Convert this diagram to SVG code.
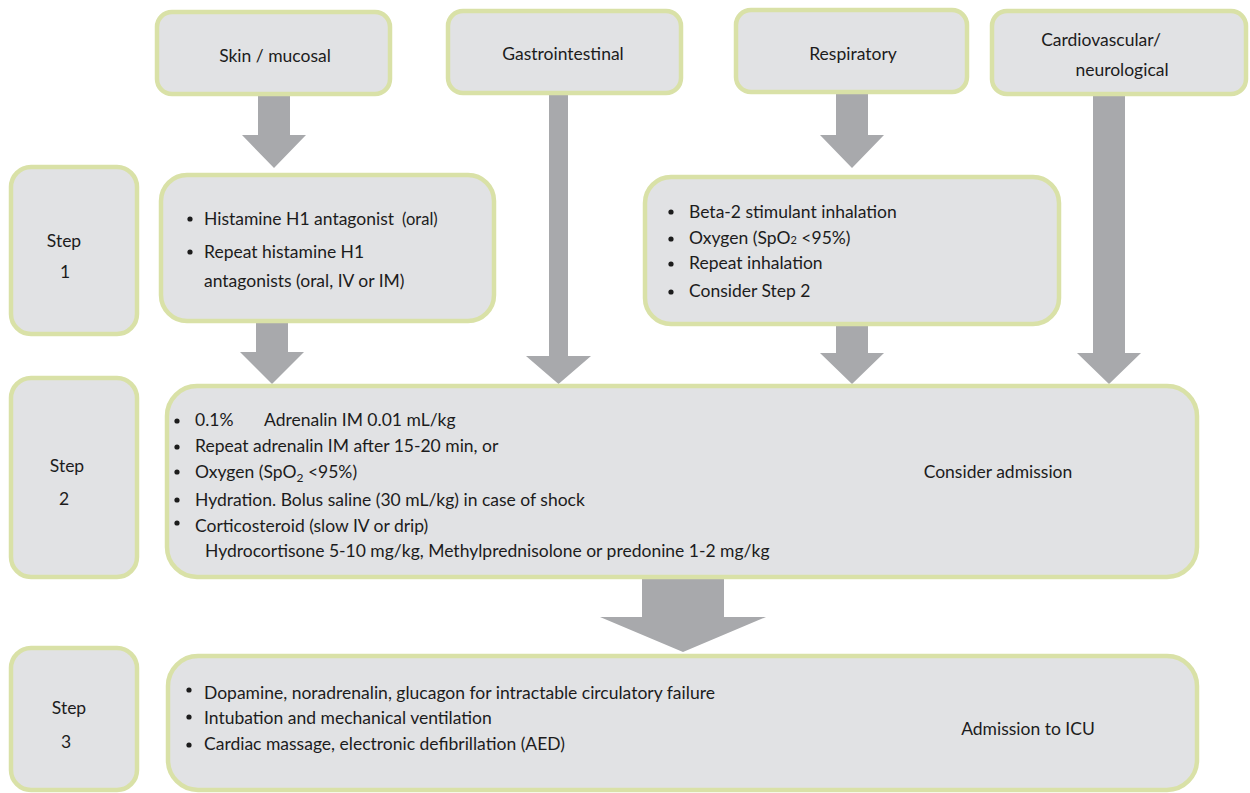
<svg xmlns="http://www.w3.org/2000/svg" width="1250" height="793" viewBox="0 0 1250 793">
<style>
.box{fill:#e1e2e4;stroke:#d9e1a7;stroke-width:4.5}
.arr{fill:#a8a9ac}
text{font-family:Lato,"Open Sans","Liberation Sans",sans-serif;fill:#1c1c1c;font-size:17.5px}
.c{text-anchor:middle}
.dot{fill:#1c1c1c}
</style>
<rect width="1250" height="793" fill="#ffffff"/>
<g id="connectors">
<polygon class="arr" points="258,95 290,95 290,135 306,135 274,168 242,135 258,135"/>
<polygon class="arr" points="549,93 568,93 568,356 591,356 558.5,384 526,356 549,356"/>
<polygon class="arr" points="836,93 868,93 868,135 884,135 852,168 820,135 836,135"/>
<polygon class="arr" points="1093,95 1125,95 1125,353 1141,353 1109,384 1077,353 1093,353"/>
<polygon class="arr" points="256,322 288,322 288,352 304,352 272,384 240,352 256,352"/>
<polygon class="arr" points="836,325 868,325 868,353 884,353 852,384 820,353 836,353"/>
<polygon class="arr" points="642,578 724,578 724,617 766,617 683,652 600,617 642,617"/>
</g>
<g id="skin">
<rect class="box" x="157" y="12" width="233" height="82" rx="15"/>
<text class="c" x="275" y="62">Skin / mucosal</text>
</g>
<g id="gastro">
<rect class="box" x="448" y="11" width="233" height="82" rx="15"/>
<text class="c" x="563" y="60">Gastrointestinal</text>
</g>
<g id="respiratory">
<rect class="box" x="736" y="10" width="231" height="82" rx="15"/>
<text class="c" x="853" y="60">Respiratory</text>
</g>
<g id="cardio">
<rect class="box" x="992" y="11" width="254" height="83" rx="15"/>
<text class="c" x="1101" y="46">Cardiovascular/</text>
<text class="c" x="1122" y="76">neurological</text>
</g>
<g id="step1">
<rect class="box" x="11" y="167" width="126" height="167" rx="20"/>
<text class="c" x="64" y="247">Step</text>
<text class="c" x="65" y="278">1</text>
</g>
<g id="step1-content">
<rect class="box" x="161" y="175" width="333" height="146" rx="26"/>
<circle class="dot" cx="190" cy="219" r="2.6"/>
<circle class="dot" cx="190" cy="252" r="2.6"/>
<text x="204" y="225">Histamine H1 antagonist<tspan dx="8" font-size="16.5">(oral)</tspan></text>
<text x="204" y="258">Repeat histamine H1</text>
<text x="204" y="287">antagonists (oral, IV or IM)</text>
</g>
<g id="resp-content">
<rect class="box" x="645" y="177" width="414" height="147" rx="26"/>
<circle class="dot" cx="671" cy="212" r="2.6"/>
<circle class="dot" cx="671" cy="239" r="2.6"/>
<circle class="dot" cx="671" cy="264" r="2.6"/>
<circle class="dot" cx="671" cy="292" r="2.6"/>
<text x="689" y="218">Beta-2 stimulant inhalation</text>
<text x="689" y="244">Oxygen (SpO<tspan font-size="11">2</tspan> &lt;95%)</text>
<text x="689" y="269">Repeat inhalation</text>
<text x="689" y="297">Consider Step 2</text>
</g>
<g id="step2">
<rect class="box" x="11" y="378" width="126" height="199" rx="20"/>
<text class="c" x="67" y="472">Step</text>
<text class="c" x="64" y="505">2</text>
</g>
<g id="step2-content">
<rect class="box" x="167" y="386" width="1030" height="191" rx="30"/>
<circle class="dot" cx="177" cy="421" r="2.6"/>
<circle class="dot" cx="177" cy="447" r="2.6"/>
<circle class="dot" cx="177" cy="472" r="2.6"/>
<circle class="dot" cx="177" cy="500" r="2.6"/>
<circle class="dot" cx="177" cy="523" r="2.6"/>
<text x="195" y="426">0.1%<tspan x="264">Adrenalin IM 0.01 mL/kg</tspan></text>
<text x="195" y="452">Repeat adrenalin IM after 15-20 min, or</text>
<text x="195" y="478">Oxygen (SpO<tspan font-size="12" dy="4">2</tspan><tspan dy="-4"> &lt;95%)</tspan></text>
<text x="195" y="506">Hydration. Bolus saline (30 mL/kg) in case of shock</text>
<text x="195" y="532">Corticosteroid (slow IV or drip)</text>
<text x="205" y="557">Hydrocortisone 5-10 mg/kg, Methylprednisolone or predonine 1-2 mg/kg</text>
<text class="c" x="998" y="478">Consider admission</text>
</g>
<g id="step3">
<rect class="box" x="11" y="648" width="126" height="142" rx="20"/>
<text class="c" x="69" y="714">Step</text>
<text class="c" x="66" y="748">3</text>
</g>
<g id="step3-content">
<rect class="box" x="168" y="656" width="1029" height="134" rx="30"/>
<circle class="dot" cx="189" cy="690" r="2.6"/>
<circle class="dot" cx="189" cy="717" r="2.6"/>
<circle class="dot" cx="189" cy="745" r="2.6"/>
<text x="204" y="699">Dopamine, noradrenalin, glucagon for intractable circulatory failure</text>
<text x="204" y="724">Intubation and mechanical ventilation</text>
<text x="204" y="750">Cardiac massage, electronic defibrillation (AED)</text>
<text class="c" x="1028" y="735">Admission to ICU</text>
</g>
</svg>
